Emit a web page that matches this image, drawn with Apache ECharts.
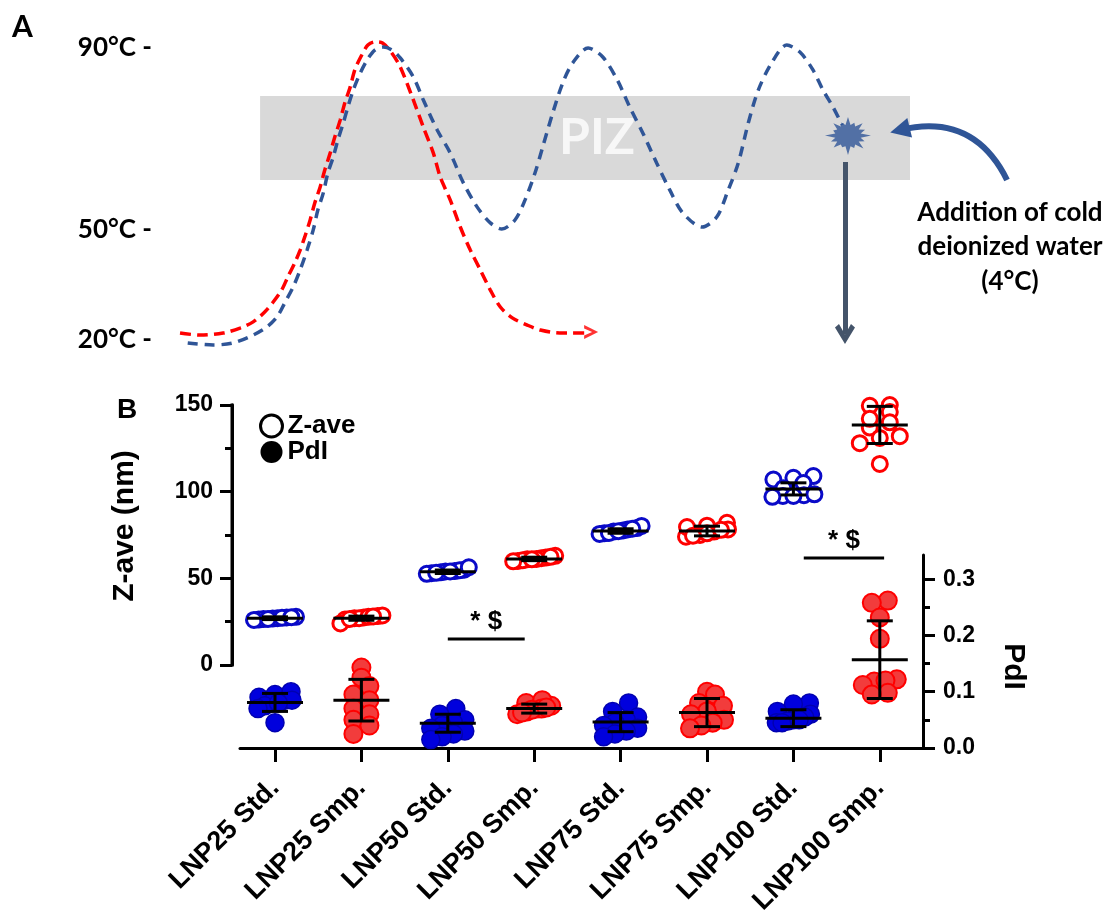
<!DOCTYPE html>
<html>
<head>
<meta charset="utf-8">
<title>LNP PIZ</title>
<script src="https://cdn.jsdelivr.net/npm/echarts@6.0.0/dist/echarts.min.js"></script>
<style>
  html, body { margin: 0; padding: 0; background: #fff; }
  #chart { width: 1109px; height: 918px; }
</style>
</head>
<body>
<div id="chart"></div>
<script>
// ---------- Panel A : temperature schematic (time a.u. / schematic level) ----------
const tempLevels = [0, 37.7, 100];
const tempLabels = ['20°C -', '50°C -', '90°C -'];
const redCurve = [[2.6,2.4],[5.2,1.7],[8.2,2.4],[10.4,4.1],[12.1,6.2],[13.6,9.6],[14.7,13.0],[15.8,17.1],
  [16.6,21.6],[17.5,26.4],[18.2,30.8],[18.8,35.3],[19.5,41.1],[20.1,46.9],[20.8,52.4],[21.4,58.2],[22.1,64.0],
  [22.7,69.5],[23.4,75.3],[24.0,81.2],[24.7,86.6],[25.3,92.5],[26.2,97.6],[27.0,101.0],[27.9,102.1],[28.9,101.7],
  [30.1,98.3],[31.2,93.5],[32.9,82.2],[34.2,72.9],[35.5,64.0],[36.4,55.8],[37.7,47.9],[39.0,38.7],[40.3,30.8],
  [41.6,24.0],[42.9,17.1],[44.2,11.3],[45.8,7.5],[47.7,5.1],[49.4,3.4],[51.9,2.4],[55.8,2.4]];
const redArrowTip = [56.9, 2.7];
const blueCurve = [[3.6,-1.0],[6.9,-1.7],[9.5,-1.0],[12.1,1.7],[13.9,4.5],[15.2,7.9],[16.2,12.7],[17.3,18.2],
  [18.2,24.0],[19.1,30.8],[19.9,37.7],[20.5,44.5],[21.2,50.3],[21.8,57.2],[22.5,62.7],[23.1,68.5],[23.8,74.3],
  [24.4,79.8],[25.1,85.6],[26.0,91.4],[26.9,95.9],[27.9,99.3],[29.0,100.3],[30.1,99.3],[31.2,96.6],[32.9,90.1],
  [34.2,82.2],[36.0,71.9],[37.7,64.0],[39.4,53.8],[41.2,45.5],[42.9,40.1],[44.4,38.0],[46.1,41.1],[47.4,47.9],
  [48.7,57.2],[49.7,66.1],[51.0,77.7],[52.3,88.0],[53.6,94.9],[55.6,100],[57.5,96.9],[59.4,89.0],[61.0,79.8],
  [62.7,70.9],[64.5,60.6],[66.2,51.4],[67.9,43.5],[70.4,38.7],[72.3,42.1],[73.8,51.4],[75.1,60.6],[76.4,74.3],
  [77.7,85.6],[79.5,95.2],[81.4,101.0],[83.1,98.6],[84.8,92.5],[86.1,85.6],[87.4,79.8],[88.6,73.6]];
const pizBand = [13.0, 97.4, 54.8, 83.6];   // t from, t to, level from, level to
const burstPoint = [89.35, 69.9];
const waterArrow = [[110.0, 54.8], [96.1, 71.9]];
const dropArrow = [[88.96, 61.0], [88.96, 2.05]];

// ---------- Panel B : Z-ave and PdI per formulation ----------
const categories = ['LNP25 Std.', 'LNP25 Smp.', 'LNP50 Std.', 'LNP50 Smp.',
  'LNP75 Std.', 'LNP75 Smp.', 'LNP100 Std.', 'LNP100 Smp.'];
const zAve = [
  [26.2, 26.8, 27.4, 26.5, 27.0, 27.8, 26.0, 27.2, 27.6, 26.6],
  [27.0, 28.2, 27.4, 26.2, 28.6, 24.0, 27.0, 26.6, 27.8, 28.0],
  [53.0, 54.0, 53.5, 55.0, 54.2, 52.6, 54.6, 56.4, 53.2, 54.0],
  [61.0, 60.0, 62.0, 61.6, 60.4, 63.0, 61.2, 59.8, 62.4, 61.0],
  [77.0, 78.2, 76.0, 79.0, 80.2, 75.6, 77.6, 76.2, 78.6, 77.2],
  [77.0, 82.0, 75.0, 80.4, 74.0, 78.2, 76.0, 79.6, 74.6, 78.0],
  [109, 108, 107, 105, 102, 98, 97.5, 97, 97.5, 98.5],
  [150, 149.5, 146, 140, 137, 132, 131, 128, 142, 116]
];
const pdi = [
  [0.09, 0.085, 0.08, 0.095, 0.10, 0.075, 0.085, 0.07, 0.045, 0.08],
  [0.143, 0.125, 0.11, 0.095, 0.085, 0.07, 0.06, 0.05, 0.04, 0.025],
  [0.07, 0.06, 0.05, 0.045, 0.04, 0.035, 0.03, 0.025, 0.02, 0.015],
  [0.08, 0.075, 0.07, 0.065, 0.085, 0.07, 0.06, 0.068, 0.072, 0.063],
  [0.08, 0.065, 0.055, 0.05, 0.045, 0.04, 0.035, 0.03, 0.025, 0.02],
  [0.10, 0.095, 0.08, 0.075, 0.065, 0.06, 0.05, 0.045, 0.04, 0.035],
  [0.08, 0.078, 0.065, 0.06, 0.055, 0.05, 0.048, 0.045, 0.045, 0.05],
  [0.262, 0.258, 0.232, 0.194, 0.122, 0.118, 0.112, 0.12, 0.098, 0.095]
];
const zMean = [27, 27, 53.8, 61.2, 77.3, 77.3, 101.6, 138.5];
const zSd = [0.8, 1.2, 1.0, 1.0, 1.3, 2.8, 3.5, 10.7];
const pdiMean = [0.081, 0.085, 0.044, 0.070, 0.046, 0.063, 0.053, 0.157];
const pdiSd = [0.016, 0.037, 0.016, 0.008, 0.017, 0.025, 0.015, 0.069];
const zTicks = [0, 50, 100, 150];
const zMinorTicks = [25, 75, 125];
const pdiTicks = [0, 0.1, 0.2, 0.3];
const pdiMinorTicks = [0.05, 0.15, 0.25];
const sigBars = [[2.0, 2.89, 15], [6.12, 7.05, 61.7]];   // x from, x to, Z-ave level
const sigText = '* $';

// layout
const X_MAX = 7.5, PX_X = 86.4;
const gridZ = { left: 232, top: 405, width: 691, height: 260 };
const gridP = { left: 240, top: 555, width: 683, height: 193 };
const P_MAX = 0.343;
const PX_Z = gridZ.height / 150, PX_P = gridP.height / P_MAX;
const Z_X_MIN = X_MAX - gridZ.width / PX_X;

const BLUE = '#0a0ac8', RED = '#ff0000', SCHEME_BLUE = '#2f5597';
const ARIAL = '"Liberation Sans", Arial, sans-serif';
const CAL = 'Lato, "Open Sans", sans-serif';

// GraphPad-like spread: bin values into rows, spread each row horizontally
function spread(vals, pxPerUnit, rowPx, step, maxWidth) {
  const order = vals.map((v, i) => i).sort((a, b) => vals[a] - vals[b]);
  const rows = [];
  order.forEach(i => {
    const last = rows[rows.length - 1];
    if (last && (vals[i] - vals[last[0]]) * pxPerUnit <= rowPx) last.push(i);
    else rows.push([i]);
  });
  const offs = [];
  rows.forEach(r => {
    const s = r.length > 1 ? Math.min(step, maxWidth / (r.length - 1)) : 0;
    r.forEach((i, j) => { offs[i] = (j - (r.length - 1) / 2) * s; });
  });
  return offs;
}

function points(values, parity, pxPerUnit, rowPx, step, maxWidth) {
  const out = [];
  values.forEach((vals, g) => {
    if (g % 2 !== parity) return;
    const offs = spread(vals, pxPerUnit, rowPx, step, maxWidth);
    vals.forEach((v, i) => out.push([g + offs[i] / PX_X, v]));
  });
  return out;
}

function burstPath() {
  const radii = [1, 0.78, 0.95, 0.7, 1, 0.66, 0.88, 0.8, 1, 0.7, 0.9, 0.74, 0.97, 0.72, 0.9, 0.8];
  let d = '';
  const n = radii.length;
  for (let k = 0; k < n * 2; k++) {
    const a = Math.PI * k / n;
    const r = k % 2 ? 0.56 : radii[k / 2];
    const x = 50 + 50 * r * Math.cos(a), y = 50 + 50 * r * Math.sin(a);
    d += (k ? 'L' : 'M') + x.toFixed(1) + ',' + y.toFixed(1);
  }
  return 'path://' + d + 'Z';
}

function renderBar(params, api) {
  const x = api.value(0), m = api.value(1), s = api.value(2);
  const c = api.coord([x, m]);
  const hi = api.coord([x, m + s]), lo = api.coord([x, m - s]);
  const st = { stroke: '#000', lineWidth: 3 };
  return {
    type: 'group', children: [
      { type: 'line', shape: { x1: c[0] - 28, y1: c[1], x2: c[0] + 28, y2: c[1] }, style: st },
      { type: 'line', shape: { x1: c[0], y1: hi[1], x2: c[0], y2: lo[1] }, style: st },
      { type: 'line', shape: { x1: c[0] - 13, y1: hi[1], x2: c[0] + 13, y2: hi[1] }, style: st },
      { type: 'line', shape: { x1: c[0] - 13, y1: lo[1], x2: c[0] + 13, y2: lo[1] }, style: st }
    ]
  };
}

function renderSig(params, api) {
  const a = api.coord([api.value(0), api.value(2)]);
  const b = api.coord([api.value(1), api.value(2)]);
  return {
    type: 'group', children: [
      { type: 'line', shape: { x1: a[0], y1: a[1], x2: b[0], y2: b[1] }, style: { stroke: '#000', lineWidth: 3 } },
      { type: 'text', style: { text: sigText, x: (a[0] + b[0]) / 2, y: a[1] - 4, align: 'center',
        verticalAlign: 'bottom', font: 'bold 26px ' + ARIAL, fill: '#000' } }
    ]
  };
}

const blackLine = () => ({ show: true, onZero: false, lineStyle: { color: '#000', width: 3 } });
const labelFont = { color: '#000', fontWeight: 'bold', fontFamily: ARIAL };

const chart = echarts.init(document.getElementById('chart'));
chart.setOption({
  animation: false,
  backgroundColor: '#fff',
  legend: {
    orient: 'vertical', left: 254, top: 408, itemGap: 0, itemWidth: 22, itemHeight: 22,
    textStyle: { fontSize: 26, fontWeight: 'bold', fontFamily: ARIAL, color: '#000' },
    data: [
      { name: 'Z-ave', icon: 'circle', itemStyle: { color: '#fff', borderColor: '#000', borderWidth: 3 } },
      { name: 'PdI', icon: 'circle', itemStyle: { color: '#000', borderWidth: 0 } }
    ]
  },
  grid: [
    { left: 160, top: 48, width: 770, height: 292 },
    gridZ,
    gridP
  ],
  xAxis: [
    { gridIndex: 0, type: 'value', min: 0, max: 100, show: false },
    {
      gridIndex: 1, type: 'value', min: Z_X_MIN, max: X_MAX,
      axisLine: { show: false, onZero: false }, axisTick: { show: false }, axisLabel: { show: false },
      splitLine: { show: false }
    },
    {
      gridIndex: 2, type: 'value', min: X_MAX - gridP.width / PX_X, max: X_MAX,
      splitLine: { show: false },
      axisLine: blackLine(),
      axisTick: { show: true, customValues: categories.map((c, i) => i), length: 14, lineStyle: { color: '#000', width: 3 } },
      axisLabel: {
        customValues: categories.map((c, i) => i), formatter: v => categories[Math.round(v)],
        rotate: 45, margin: 36, fontSize: 27, ...labelFont
      }
    }
  ],
  yAxis: [
    {
      gridIndex: 0, type: 'value', min: 0, max: 100,
      axisLine: { show: false }, axisTick: { show: false }, splitLine: { show: false },
      axisLabel: {
        customValues: tempLevels, formatter: v => tempLabels[tempLevels.indexOf(v)],
        margin: 8, fontSize: 26, fontWeight: 'bold', fontFamily: CAL, color: '#000'
      }
    },
    {
      gridIndex: 1, type: 'value', position: 'left', min: 0, max: 150,
      splitLine: { show: false },
      axisLine: blackLine(),
      axisTick: { show: true, customValues: zTicks, length: 12, lineStyle: { color: '#000', width: 3 } },
      axisLabel: { customValues: zTicks, margin: 19, fontSize: 23, ...labelFont },
      name: 'Z-ave (nm)', nameLocation: 'middle', nameGap: 92,
      nameTextStyle: { fontSize: 30, padding: [0, 0, 0, 18], ...labelFont }
    },
    {
      gridIndex: 2, type: 'value', position: 'right', min: 0, max: P_MAX,
      splitLine: { show: false },
      axisLine: blackLine(),
      axisTick: { show: true, customValues: pdiTicks, length: 12, lineStyle: { color: '#000', width: 3 } },
      axisLabel: { customValues: pdiTicks, formatter: v => v.toFixed(1), margin: 20, fontSize: 23, ...labelFont },
      name: 'PdI', nameLocation: 'middle', nameGap: 75, nameRotate: -90,
      nameTextStyle: { fontSize: 30, padding: [0, 0, 0, 30], ...labelFont }
    },
    {
      gridIndex: 2, type: 'value', position: 'right', min: 0, max: P_MAX,
      splitLine: { show: false }, axisLine: { show: false, onZero: false }, axisLabel: { show: false },
      axisTick: { show: true, customValues: pdiMinorTicks, length: 7, lineStyle: { color: '#000', width: 3 } }
    },
    {
      gridIndex: 1, type: 'value', position: 'left', min: 0, max: 150,
      splitLine: { show: false }, axisLine: { show: false, onZero: false }, axisLabel: { show: false },
      axisTick: { show: true, customValues: zMinorTicks, length: 7, lineStyle: { color: '#000', width: 3 } }
    }
  ],
  graphic: [
    { type: 'text', left: 12, top: 12, style: { text: 'A', font: 'bold 30px ' + CAL, fill: '#000' } },
    { type: 'text', left: 117, top: 396, style: { text: 'B', font: 'bold 28px ' + ARIAL, fill: '#000' } },
    {
      type: 'text', x: 1010, y: 195,
      style: {
        text: 'Addition of cold\ndeionized water\n(4°C)', align: 'center', lineHeight: 34.5,
        font: 'bold 26px ' + CAL, fill: '#000'
      }
    },
    {
      // spine of the left Z-ave axis, along the edge of its grid
      type: 'rect', z: 100,
      shape: { x: gridZ.left - 1.5, y: gridZ.top - 1.5, width: 3, height: gridZ.height + 3 },
      style: { fill: '#000' }
    }
  ],
  series: [
    {
      type: 'line', xAxisIndex: 0, yAxisIndex: 0, data: [], z: 1, silent: true,
      markArea: {
        silent: true,
        itemStyle: { color: '#d9d9d9' },
        label: {
          show: true, position: 'inside', formatter: 'PIZ', offset: [12, 0],
          color: '#f7f7f7', fontSize: 50, fontWeight: 'bold', fontFamily: CAL
        },
        data: [[{ xAxis: pizBand[0], yAxis: pizBand[2] }, { xAxis: pizBand[1], yAxis: pizBand[3] }]]
      }
    },
    {
      type: 'line', xAxisIndex: 0, yAxisIndex: 0, data: redCurve, smooth: 0.3, showSymbol: false,
      clip: false, z: 3, lineStyle: { color: RED, width: 3.5, type: [11, 6] }
    },
    {
      type: 'line', xAxisIndex: 0, yAxisIndex: 0, data: blueCurve, smooth: 0.3, showSymbol: false,
      clip: false, z: 3, lineStyle: { color: SCHEME_BLUE, width: 3.5, type: [10, 7] }
    },
    {
      type: 'scatter', xAxisIndex: 0, yAxisIndex: 0, data: [redArrowTip], z: 4, clip: false,
      symbol: 'path://M0,0 L14,7 L0,14 L0,10.5 L8,7 L0,3.5 Z', symbolSize: [14, 14], symbolOffset: [-7, 0],
      itemStyle: { color: RED }
    },
    {
      type: 'scatter', xAxisIndex: 0, yAxisIndex: 0, data: [burstPoint], z: 4, clip: false,
      symbol: burstPath(), symbolSize: [46, 38], itemStyle: { color: SCHEME_BLUE }
    },
    {
      type: 'lines', coordinateSystem: 'cartesian2d', xAxisIndex: 0, yAxisIndex: 0, clip: false, z: 4,
      symbol: ['none', 'triangle'], symbolSize: 20,
      lineStyle: { color: SCHEME_BLUE, width: 6, curveness: -0.4, opacity: 1 },
      data: [{ coords: waterArrow }]
    },
    {
      type: 'lines', coordinateSystem: 'cartesian2d', xAxisIndex: 0, yAxisIndex: 0, clip: false, z: 4,
      symbol: ['none', 'path://M0,14 L10,0 L20,14 L16,17 L10,8 L4,17 Z'], symbolSize: [20, 20],
      lineStyle: { color: '#44546a', width: 5, opacity: 1 },
      data: [{ coords: dropArrow }]
    },
    {
      name: 'Z-ave', type: 'scatter', xAxisIndex: 1, yAxisIndex: 1, clip: false, z: 5,
      data: points(zAve, 0, PX_Z, 8, 20, 42), symbolSize: 15,
      itemStyle: { color: '#fff', borderColor: BLUE, borderWidth: 3, opacity: 1 }
    },
    {
      name: 'Z-ave', type: 'scatter', xAxisIndex: 1, yAxisIndex: 1, clip: false, z: 5,
      data: points(zAve, 1, PX_Z, 8, 20, 42), symbolSize: 15,
      itemStyle: { color: '#fff', borderColor: RED, borderWidth: 3, opacity: 1 }
    },
    {
      name: 'PdI', type: 'scatter', xAxisIndex: 2, yAxisIndex: 2, clip: false, z: 5,
      data: points(pdi, 0, PX_P, 9, 16, 34), symbolSize: 18,
      itemStyle: { color: '#0000dd', borderColor: '#0000b0', borderWidth: 1.5, opacity: 1 }
    },
    {
      name: 'PdI', type: 'scatter', xAxisIndex: 2, yAxisIndex: 2, clip: false, z: 5,
      data: points(pdi, 1, PX_P, 9, 16, 34), symbolSize: 18,
      itemStyle: { color: '#f23c3c', borderColor: '#ff0000', borderWidth: 2, opacity: 1 }
    },
    {
      type: 'custom', xAxisIndex: 1, yAxisIndex: 1, clip: false, z: 6, silent: true,
      renderItem: renderBar, encode: { x: 0, y: 1 },
      data: zMean.map((m, i) => [i, m, zSd[i]])
    },
    {
      type: 'custom', xAxisIndex: 2, yAxisIndex: 2, clip: false, z: 6, silent: true,
      renderItem: renderBar, encode: { x: 0, y: 1 },
      data: pdiMean.map((m, i) => [i, m, pdiSd[i]])
    },
    {
      type: 'custom', xAxisIndex: 1, yAxisIndex: 1, clip: false, z: 6, silent: true,
      renderItem: renderSig, encode: { x: [0, 1], y: 2 },
      data: sigBars
    }
  ]
});
</script>
</body>
</html>
